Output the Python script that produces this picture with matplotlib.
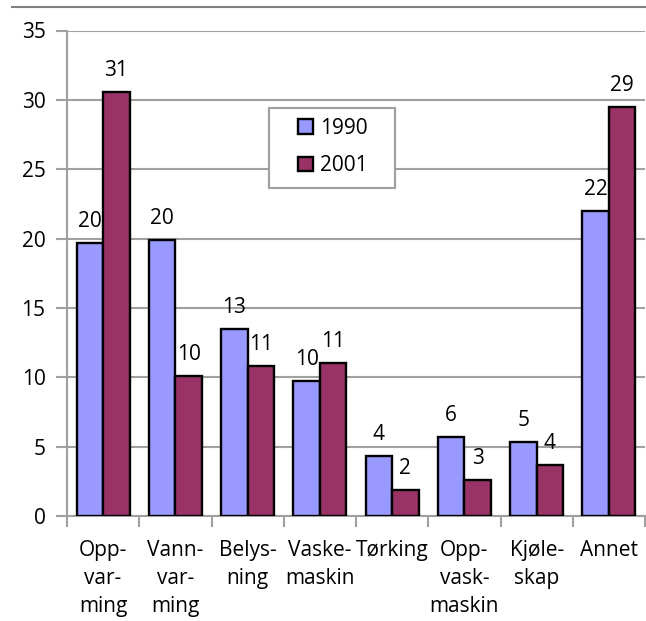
import matplotlib.pyplot as plt
import matplotlib.lines as mlines
import matplotlib.patches as mpatches
import numpy as np

plt.rcParams['font.family'] = ['Open Sans', 'DejaVu Sans']

# Categories and values
categories = ['Opp-\nvar-\nming', 'Vann-\nvar-\nming', 'Belys-\nning', 'Vaske-\nmaskin',
              'Tørking', 'Opp-\nvask-\nmaskin', 'Kjøle-\nskap', 'Annet']
values_1990 = [19.7, 19.9, 13.45, 9.7, 4.3, 5.7, 5.3, 22.0]
values_2001 = [30.55, 10.1, 10.8, 11.0, 1.9, 2.6, 3.7, 29.45]
labels_1990 = [20, 20, 13, 10, 4, 6, 5, 22]
labels_2001 = [31, 10, 11, 11, 2, 3, 4, 29]

color_1990 = '#9999FF'
color_2001 = '#993366'
grid_color = '#A0A0A0'
fs = 15

W, H = 646, 621
fig = plt.figure(figsize=(W / 100, H / 100), dpi=100)
ax = fig.add_axes([67 / W, 105 / H, 578 / W, 485.5 / H])

x = np.arange(len(categories))
w = 0.367
bars1 = ax.bar(x - w / 2, values_1990, w, color=color_1990, edgecolor='black', linewidth=1.7,
               label='1990', zorder=3)
bars2 = ax.bar(x + w / 2, values_2001, w, color=color_2001, edgecolor='black', linewidth=1.7,
               label='2001', zorder=3)

for b, lab in zip(bars1, labels_1990):
    ax.annotate(str(lab), (b.get_x() + b.get_width() / 2, b.get_height()),
                xytext=(0, 8), textcoords='offset points', ha='center', va='bottom', fontsize=fs)
for b, lab in zip(bars2, labels_2001):
    ax.annotate(str(lab), (b.get_x() + b.get_width() / 2, b.get_height()),
                xytext=(0, 8), textcoords='offset points', ha='center', va='bottom', fontsize=fs)

ax.set_xlim(-0.5, len(categories) - 0.5)
ax.set_ylim(0, 35)
ax.set_yticks(np.arange(0, 36, 5))
ax.yaxis.grid(True, color=grid_color, linewidth=1.5, zorder=0)
ax.set_axisbelow(True)

ax.set_xticks(x)
ax.set_xticklabels(categories, fontsize=fs, linespacing=1.45, va='top')
ax.set_xticks(np.arange(-0.5, len(categories), 1), minor=True)
ax.tick_params(axis='x', which='major', length=0, pad=17)
ax.tick_params(axis='x', which='minor', length=8, width=1.5, color=grid_color, direction='out')
ax.tick_params(axis='y', length=8, width=1.5, color=grid_color, labelsize=fs, pad=7.5)

for s in ['top', 'right']:
    ax.spines[s].set_visible(False)
for s in ['left', 'bottom']:
    ax.spines[s].set_color(grid_color)
    ax.spines[s].set_linewidth(1.5)

# legend: entries without frame, box drawn separately (wide horizontal padding)
leg = fig.legend(handles=[bars1, bars2], loc='center', bbox_to_anchor=(333 / W, 1 - 147 / H),
                 fontsize=fs, frameon=False, handlelength=0.72, handleheight=0.72,
                 handletextpad=0.35, labelspacing=0.8, borderpad=0)
box = mpatches.Rectangle((269 / W, 1 - 188 / H), 126 / W, 80 / H, transform=fig.transFigure,
                         facecolor='white', edgecolor=grid_color, linewidth=1.5, zorder=4)
fig.add_artist(box)
leg.set_zorder(5)

# thin rule across the top of the figure
fig.add_artist(mlines.Line2D([12 / W, 1], [1 - 7 / H, 1 - 7 / H], color='#808080', linewidth=1.5))

fig.savefig('out.png', dpi=100)
